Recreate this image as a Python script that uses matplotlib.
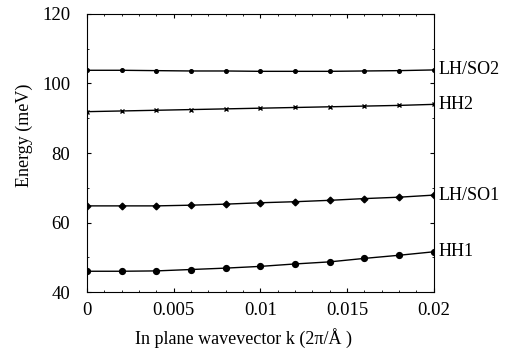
import matplotlib.pyplot as plt
import numpy as np

plt.rcParams['font.family'] = ['Liberation Serif', 'DejaVu Serif']

k = [0, 0.002, 0.004, 0.006, 0.008, 0.01, 0.012, 0.014, 0.016, 0.018, 0.02]
hh1 = [46.0, 46.0, 46.1, 46.5, 46.9, 47.4, 48.1, 48.7, 49.7, 50.6, 51.6]
lhso1 = [64.8, 64.8, 64.8, 65.0, 65.3, 65.7, 66.0, 66.4, 66.9, 67.3, 67.9]
hh2 = [91.9, 92.1, 92.3, 92.5, 92.7, 92.9, 93.1, 93.3, 93.5, 93.7, 94.0]
lhso2 = [103.8, 103.8, 103.7, 103.6, 103.6, 103.5, 103.5, 103.5, 103.6, 103.7, 103.9]
names = ['HH1', 'LH/SO1', 'HH2', 'LH/SO2']

fig = plt.figure(figsize=(5.05, 3.49), dpi=100)
ax = fig.add_axes([0.172, 0.163, 0.687, 0.797])

ax.plot(k, hh1, color='black', lw=1.0, marker='o', ms=4.2)
ax.plot(k, lhso1, color='black', lw=1.0, marker='D', ms=3.4)
ax.plot(k, hh2, color='black', lw=1.0, marker='x', ms=3)
ax.plot(k, lhso2, color='black', lw=1.0, marker='o', ms=2.6)

# band names just outside the right edge
for yv, name in zip([hh1[-1], lhso1[-1], hh2[-1], lhso2[-1]], names):
    ax.text(0.0203, yv, name, va='center', ha='left', fontsize=13, clip_on=False)

ax.set_xlim(0, 0.02)
ax.set_ylim(40, 120)
ax.set_xticks([0, 0.005, 0.01, 0.015, 0.02])
ax.set_xticklabels(['0', '0.005', '0.01', '0.015', '0.02'])
ax.set_yticks([40, 60, 80, 100, 120])
ax.set_xticks(np.arange(0, 0.0201, 0.001), minor=True)
ax.set_yticks(np.arange(40, 121, 10), minor=True)
ax.tick_params(direction='in', top=True, right=True, labelsize=13.5, length=3)
ax.tick_params(axis='y', pad=12)
ax.tick_params(axis='x', pad=7)
ax.tick_params(which='minor', direction='in', top=True, right=True, length=1.5)

ax.set_xlabel('In plane wavevector k (2π/Å )', fontsize=13)
ax.set_ylabel('Energy (meV)', fontsize=13)
ax.xaxis.set_label_coords(0.452, -0.128)
ax.yaxis.set_label_coords(-0.156, 0.565)

fig.savefig('out.png', dpi=100)
